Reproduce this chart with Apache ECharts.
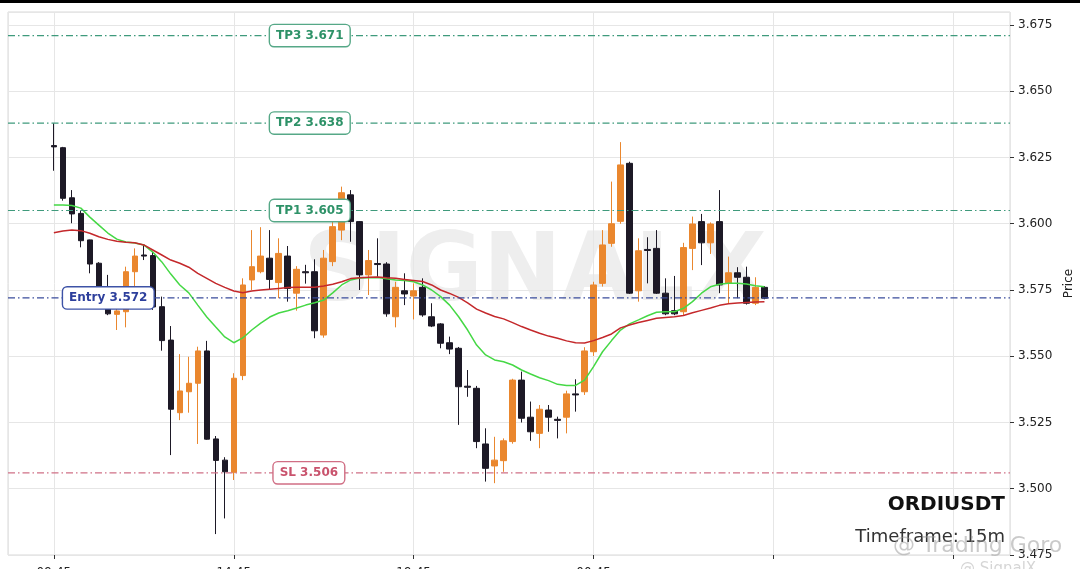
<!DOCTYPE html>
<html>
<head>
<meta charset="utf-8">
<script src="https://cdn.jsdelivr.net/npm/echarts@6/dist/echarts.min.js"></script>
<style>
  html, body { margin: 0; padding: 0; background: #fff; }
  #chart { width: 1080px; height: 569px; }
</style>
</head>
<body>
<div id="chart"></div>
<script>
// ORDIUSDT 15m candles (index 0 = first candle)
const opens = [
  3.6295, 3.6287, 3.6098, 3.6039, 3.5939, 3.5851, 3.5700, 3.5658, 3.5668, 3.5819,
  3.5882, 3.5880, 3.5687, 3.5561, 3.5287, 3.5366, 3.5398, 3.5520, 3.5188, 3.5108,
  3.5062, 3.5427, 3.5788, 3.5819, 3.5870, 3.5778, 3.5878, 3.5738, 3.5819, 3.5819,
  3.5580, 3.5857, 3.5976, 3.6109, 3.6008, 3.5807, 3.5850, 3.5848, 3.5649, 3.5747,
  3.5727, 3.5760, 3.5649, 3.5622, 3.5551, 3.5530, 3.5387, 3.5379, 3.5169, 3.5086,
  3.5106, 3.5178, 3.5410, 3.5270, 3.5209, 3.5297, 3.5262, 3.5270, 3.5358, 3.5366,
  3.5517, 3.5775, 3.5926, 3.6009, 3.6228, 3.5747, 3.5903, 3.5907, 3.5738, 3.5672,
  3.5668, 3.5907, 3.6008, 3.5928, 3.6008, 3.5775, 3.5815, 3.5798, 3.5700, 3.5760
];
const closes = [
  3.6290, 3.6096, 3.6037, 3.5936, 3.5848, 3.5761, 3.5660, 3.5671, 3.5819, 3.5878,
  3.5878, 3.5686, 3.5559, 3.5300, 3.5369, 3.5398, 3.5520, 3.5187, 3.5107, 3.5064,
  3.5417, 3.5769, 3.5838, 3.5878, 3.5790, 3.5888, 3.5756, 3.5828, 3.5815, 3.5596,
  3.5870, 3.5989, 3.6117, 3.6008, 3.5807, 3.5861, 3.5846, 3.5660, 3.5760, 3.5735,
  3.5747, 3.5656, 3.5614, 3.5549, 3.5527, 3.5385, 3.5383, 3.5178, 3.5077, 3.5108,
  3.5181, 3.5410, 3.5266, 3.5215, 3.5300, 3.5270, 3.5258, 3.5358, 3.5354, 3.5520,
  3.5769, 3.5920, 3.6000, 3.6222, 3.5738, 3.5898, 3.5899, 3.5738, 3.5660, 3.5660,
  3.5910, 3.5999, 3.5928, 3.5999, 3.5769, 3.5815, 3.5798, 3.5700, 3.5760, 3.5719
];
const lows = [
  3.6200, 3.6087, 3.6002, 3.5911, 3.5813, 3.5750, 3.5655, 3.5599, 3.5609, 3.5763,
  3.5863, 3.5675, 3.5521, 3.5127, 3.5259, 3.5287, 3.5169, 3.5185, 3.4829, 3.4888,
  3.5033, 3.5410, 3.5750, 3.5813, 3.5750, 3.5719, 3.5706, 3.5672, 3.5774, 3.5568,
  3.5570, 3.5840, 3.5938, 3.5932, 3.5750, 3.5731, 3.5800, 3.5649, 3.5609, 3.5693,
  3.5639, 3.5649, 3.5610, 3.5530, 3.5508, 3.5241, 3.5347, 3.5153, 3.5027, 3.5021,
  3.5064, 3.5170, 3.5250, 3.5181, 3.5153, 3.5215, 3.5190, 3.5209, 3.5291, 3.5354,
  3.5501, 3.5763, 3.5913, 3.6000, 3.5735, 3.5706, 3.5775, 3.5735, 3.5655, 3.5655,
  3.5655, 3.5825, 3.5844, 3.5886, 3.5738, 3.5700, 3.5719, 3.5695, 3.5693, 3.5715
];
const highs = [
  3.6379, 3.6290, 3.6127, 3.6050, 3.5940, 3.5855, 3.5807, 3.5690, 3.5838, 3.5907,
  3.5920, 3.5893, 3.5725, 3.5614, 3.5508, 3.5498, 3.5536, 3.5558, 3.5199, 3.5119,
  3.5436, 3.5794, 3.5976, 3.5987, 3.5976, 3.5945, 3.5916, 3.5840, 3.5845, 3.5866,
  3.5901, 3.6014, 3.6140, 3.6127, 3.6010, 3.5901, 3.5945, 3.5855, 3.5781, 3.5813,
  3.5775, 3.5794, 3.5700, 3.5625, 3.5574, 3.5535, 3.5448, 3.5388, 3.5228, 3.5196,
  3.5190, 3.5415, 3.5442, 3.5329, 3.5316, 3.5316, 3.5272, 3.5370, 3.5413, 3.5534,
  3.5781, 3.5976, 3.6159, 3.6308, 3.6234, 3.5945, 3.5949, 3.5976, 3.5794, 3.5803,
  3.5928, 3.6027, 3.6037, 3.6005, 3.6127, 3.5876, 3.5836, 3.5838, 3.5798, 3.5765
];

// moving averages as drawn (green fast, red slow)
const emaFast = [
  3.6071, 3.6071, 3.6069, 3.6059, 3.6025, 3.5995, 3.5965, 3.5942, 3.5931, 3.5927,
  3.5920, 3.5893, 3.5856, 3.5810, 3.5769, 3.5739, 3.5693, 3.5648, 3.5610, 3.5573,
  3.5551, 3.5569, 3.5599, 3.5625, 3.5648, 3.5663, 3.5672, 3.5682, 3.5693, 3.5702,
  3.5712, 3.5739, 3.5769, 3.5788, 3.5795, 3.5796, 3.5797, 3.5792, 3.5788, 3.5786,
  3.5781, 3.5769, 3.5750, 3.5725, 3.5693, 3.5649, 3.5599, 3.5542, 3.5505, 3.5486,
  3.5479, 3.5467, 3.5448, 3.5433, 3.5419, 3.5408, 3.5394, 3.5390, 3.5390, 3.5410,
  3.5461, 3.5517, 3.5559, 3.5599, 3.5622, 3.5637, 3.5653, 3.5666, 3.5668, 3.5668,
  3.5681, 3.5706, 3.5738, 3.5762, 3.5772, 3.5775, 3.5775, 3.5773, 3.5766, 3.5762
];
const emaSlow = [
  3.5966, 3.5973, 3.5976, 3.5974, 3.5964, 3.5951, 3.5941, 3.5934, 3.5930, 3.5928,
  3.5920, 3.5901, 3.5882, 3.5863, 3.5851, 3.5836, 3.5813, 3.5794, 3.5775, 3.5760,
  3.5746, 3.5740, 3.5746, 3.5750, 3.5753, 3.5756, 3.5759, 3.5760, 3.5760, 3.5760,
  3.5765, 3.5772, 3.5781, 3.5793, 3.5796, 3.5798, 3.5799, 3.5796, 3.5794, 3.5790,
  3.5786, 3.5782, 3.5769, 3.5750, 3.5737, 3.5722, 3.5701, 3.5678, 3.5663, 3.5650,
  3.5641, 3.5627, 3.5612, 3.5599, 3.5587, 3.5576, 3.5568, 3.5558, 3.5551, 3.5550,
  3.5559, 3.5571, 3.5584, 3.5607, 3.5618, 3.5627, 3.5635, 3.5643, 3.5646, 3.5649,
  3.5654, 3.5664, 3.5673, 3.5682, 3.5692, 3.5698, 3.5701, 3.5703, 3.5705, 3.5706
];

// trade levels
const levelNames = ['TP3', 'TP2', 'TP1', 'Entry', 'SL'];
const levelValues = [3.671, 3.638, 3.605, 3.572, 3.506];

// x tick labels (one every 20 candles)
const timeLabels = ['09:45', '14:45', '19:45', '00:45'];

const FONT = 'DejaVu Sans';
const X_MIN = -5.1;
const X_MAX = 106.3;
const levelStyle = {
  TP3: { line: '#3f9a7c', text: '#2e9268', box: '#56a887', at: 28.45 },
  TP2: { line: '#3f9a7c', text: '#2e9268', box: '#56a887', at: 28.45 },
  TP1: { line: '#3f9a7c', text: '#2e9268', box: '#56a887', at: 28.45 },
  Entry: { line: '#3a4c9c', text: '#2d3f9c', box: '#3d52a6', at: 6.05 },
  SL: { line: '#d07086', text: '#c9536d', box: '#d06e84', at: 28.35 }
};

const candleData = opens.map((o, i) => [i, o, closes[i], lows[i], highs[i]]);
const fastData = emaFast.map((v, i) => [i, v]);
const slowData = emaSlow.map((v, i) => [i, v]);

// one horizontal line series per level, spanning the whole x range, with a boxed label
const levelSeries = levelNames.map((n, i) => {
  const st = levelStyle[n];
  return {
    name: n,
    type: 'line',
    data: [[X_MIN, levelValues[i]], [X_MAX, levelValues[i]]],
    showSymbol: false,
    silent: true,
    z: 5,
    lineStyle: { color: st.line, width: 1.2, type: [7, 3, 1.5, 3] },
    markPoint: {
      silent: true,
      symbol: 'rect',
      symbolSize: 0,
      z: 7,
      data: [{
        coord: [st.at, levelValues[i]],
        label: {
          show: true,
          position: 'inside',
          formatter: n + ' ' + levelValues[i].toFixed(3),
          color: st.text,
          fontWeight: 'bold',
          fontSize: 12,
          fontFamily: FONT,
          backgroundColor: '#ffffff',
          borderColor: st.box,
          borderWidth: 1.4,
          borderRadius: 4,
          padding: [5, 6, 4, 6]
        }
      }]
    }
  };
});

const chart = echarts.init(document.getElementById('chart'), null, { renderer: 'canvas' });

chart.setOption({
  animation: false,
  backgroundColor: '#ffffff',
  textStyle: { fontFamily: FONT },
  grid: {
    left: 8, right: 70, top: 12, bottom: 14,
    containLabel: false,
    outerBoundsMode: 'none',
    show: true, borderColor: '#d9d9d9', borderWidth: 1
  },
  xAxis: {
    type: 'value',
    min: X_MIN,
    max: X_MAX,
    splitNumber: 5,
    axisLine: { show: false, onZero: false },
    axisTick: { show: true, length: 4, lineStyle: { color: '#333' } },
    axisLabel: {
      showMinLabel: false,
      showMaxLabel: false,
      margin: 12,
      fontSize: 12,
      color: '#222',
      fontFamily: FONT,
      formatter: v => timeLabels[Math.round(v / 20)] || ''
    },
    splitLine: { show: true, lineStyle: { color: '#e6e6e6', width: 1 } }
  },
  yAxis: {
    type: 'value',
    position: 'right',
    min: 3.475,
    max: 3.6799,
    interval: 0.025,
    axisLine: { show: false, onZero: false },
    axisTick: { show: true, length: 4, lineStyle: { color: '#333' } },
    axisLabel: {
      showMaxLabel: false,
      margin: 8,
      fontSize: 12,
      color: '#222',
      fontFamily: FONT,
      formatter: v => v.toFixed(3)
    },
    splitLine: { show: true, lineStyle: { color: '#e6e6e6', width: 1 } },
    name: 'Price',
    nameLocation: 'middle',
    nameRotate: 90,
    nameGap: 48,
    nameTextStyle: { fontSize: 12, color: '#222', fontFamily: FONT }
  },
  graphic: [
    { type: 'rect', z: 100, shape: { x: 0, y: 0, width: 1080, height: 3 }, style: { fill: '#000' } },
    {
      type: 'text', z: 0, silent: true,
      style: {
        text: 'SIGNALX', x: 535, y: 276, align: 'center', verticalAlign: 'middle',
        fontSize: 94, fontWeight: 'bold', fontFamily: FONT, fill: 'rgba(215,215,215,0.42)'
      }
    },
    {
      type: 'text', z: 100,
      style: {
        text: 'ORDIUSDT', x: 1005, y: 505, align: 'right', verticalAlign: 'middle',
        fontSize: 20, fontWeight: 'bold', fontFamily: FONT, fill: '#111'
      }
    },
    {
      type: 'text', z: 100,
      style: {
        text: 'Timeframe: 15m', x: 1005, y: 537, align: 'right', verticalAlign: 'middle',
        fontSize: 18, fontFamily: FONT, fill: '#333'
      }
    },
    {
      type: 'text', z: 101, silent: true,
      style: {
        text: '@ Trading Goro', x: 893, y: 546, align: 'left', verticalAlign: 'middle',
        fontSize: 22, fontFamily: FONT, fill: 'rgba(150,150,150,0.5)'
      }
    },
    {
      type: 'text', z: 101, silent: true,
      style: {
        text: '@ SignalX', x: 960, y: 562, align: 'left', verticalAlign: 'top',
        fontSize: 15, fontFamily: FONT, fill: 'rgba(150,150,150,0.4)'
      }
    }
  ],
  series: [
    {
      name: 'ORDIUSDT',
      type: 'candlestick',
      data: candleData,
      encode: { x: 0, y: [1, 2, 3, 4] },
      barWidth: 6,
      z: 3,
      itemStyle: {
        color: '#ea872e',
        color0: '#1d1926',
        borderColor: '#ea872e',
        borderColor0: '#1d1926',
        borderWidth: 1
      }
    },
    {
      name: 'EMA fast',
      type: 'line',
      data: fastData,
      showSymbol: false,
      z: 4,
      lineStyle: { color: '#45d845', width: 1.5 }
    },
    {
      name: 'EMA slow',
      type: 'line',
      data: slowData,
      showSymbol: false,
      z: 4,
      lineStyle: { color: '#c4282b', width: 1.5 }
    },
    ...levelSeries
  ]
});

window.addEventListener('resize', () => chart.resize());
</script>
</body>
</html>
